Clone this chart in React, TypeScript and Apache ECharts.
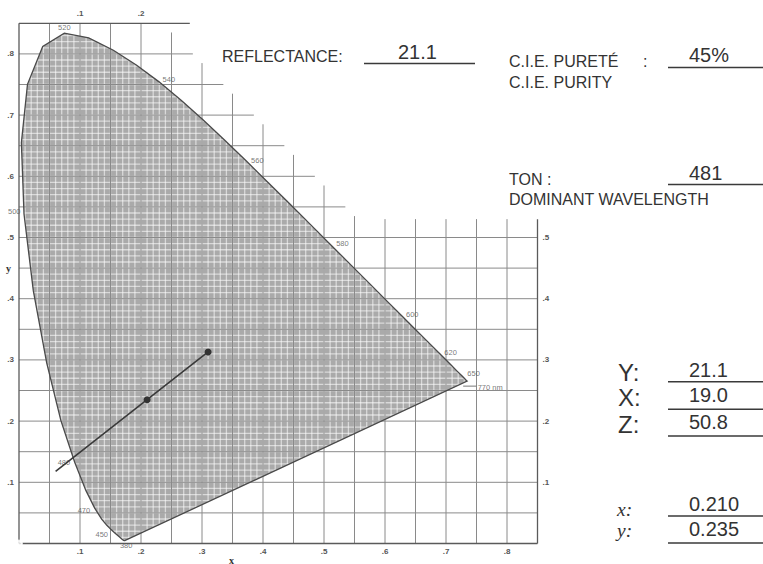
import React, { useEffect, useRef } from "react";
import * as echarts from "echarts";

// ---- Spectral locus (CIE 1931 chromaticity, read along the drawn boundary) ----
const wavelengths = [380, 390, 400, 410, 420, 430, 440, 450, 455, 460, 465, 470, 475, 480, 485, 490, 495, 500, 505, 510, 515, 520, 525, 530, 535, 540, 545, 550, 555, 560, 565, 570, 575, 580, 585, 590, 595, 600, 605, 610, 620, 630, 640, 650, 660, 680, 770];
const locusX = [0.1741, 0.1738, 0.1733, 0.1726, 0.1714, 0.1689, 0.1644, 0.1566, 0.151, 0.144, 0.1355, 0.1241, 0.1096, 0.0913, 0.0687, 0.0454, 0.0235, 0.0082, 0.0039, 0.0139, 0.0389, 0.0743, 0.1142, 0.1547, 0.1929, 0.2296, 0.2658, 0.3016, 0.3373, 0.3731, 0.4087, 0.4441, 0.4788, 0.5125, 0.5448, 0.5752, 0.6029, 0.627, 0.6482, 0.6658, 0.6915, 0.7079, 0.719, 0.726, 0.73, 0.7334, 0.7347];
const locusY = [0.005, 0.0049, 0.0048, 0.0048, 0.0051, 0.0069, 0.0109, 0.0177, 0.0227, 0.0297, 0.0399, 0.0578, 0.0868, 0.1327, 0.2007, 0.295, 0.4127, 0.5384, 0.6548, 0.7502, 0.812, 0.8338, 0.8262, 0.8059, 0.7816, 0.7543, 0.7243, 0.6923, 0.6589, 0.6245, 0.5896, 0.5547, 0.5202, 0.4866, 0.4544, 0.4242, 0.3965, 0.3725, 0.3514, 0.334, 0.3083, 0.292, 0.2809, 0.274, 0.27, 0.2666, 0.2653];

// Labelled wavelengths along the locus
const labeledWavelengths = [520, 540, 560, 580, 600, 620, 650, 770, 500, 480, 470, 450, 380];
const labeledTexts = ["520", "540", "560", "580", "600", "620", "650", "770 nm", "500", "480", "470", "450", "380"];

// Dominant-wavelength construction
const lineEnd = [0.06, 0.118];
const samplePoint = [0.21, 0.235];
const whitePoint = [0.31, 0.313];

// Tick labels
const tickValues = [0.1, 0.2, 0.3, 0.4, 0.5, 0.6, 0.7, 0.8];
const tickLabels = [".1", ".2", ".3", ".4", ".5", ".6", ".7", ".8"];

// Readouts
const reflectanceLabel = "REFLECTANCE:";
const reflectanceValue = "21.1";
const purityLabels = ["C.I.E. PURETÉ", "C.I.E. PURITY"];
const purityValue = "45%";
const toneLabels = ["TON :", "DOMINANT WAVELENGTH"];
const toneValue = "481";
const tristimulusLabels = ["Y:", "X:", "Z:"];
const tristimulusValues = ["21.1", "19.0", "50.8"];
const chromaLabels = ["x:", "y:"];
const chromaValues = ["0.210", "0.235"];

// ---- style / layout ----
const SANS = "'Liberation Sans', Arial, Helvetica, sans-serif";
const SERIF = "'Liberation Serif', 'DejaVu Serif', serif";
const INK = "#333";
const AX_MAX = 0.85;
const DIAG = 1.085;
const RIGHT_TOP = 0.53;
const TOP_BORDER_END = 0.28;

const locus = wavelengths.map((_, i) => [locusX[i], locusY[i]]);

function rangeAlong(axis: number, c: number): [number, number] | null {
  const n = locus.length;
  let lo = Infinity;
  let hi = -Infinity;
  for (let i = 0; i < n; i++) {
    const a = locus[i];
    const b = locus[(i + 1) % n];
    const ca = a[axis];
    const cb = b[axis];
    if (ca !== cb && (c - ca) * (c - cb) <= 0) {
      const t = (c - ca) / (cb - ca);
      const o = a[1 - axis] + t * (b[1 - axis] - a[1 - axis]);
      lo = Math.min(lo, o);
      hi = Math.max(hi, o);
    }
  }
  return lo <= hi ? [lo, hi] : null;
}

function tickFormatter(limit: number) {
  return (v: number) => {
    const idx = tickValues.findIndex((t) => Math.abs(t - v) < 1e-6);
    if (idx < 0 || tickValues[idx] > limit + 1e-6) return "";
    return tickLabels[idx];
  };
}

const labelPlacement: Record<number, any> = {
  520: { position: "top", distance: 1 },
  540: { position: "right", distance: 3, offset: [0, -2] },
  560: { position: "right", distance: 4, offset: [0, -1] },
  580: { position: "right", distance: 4, offset: [0, -2] },
  600: { position: "right", distance: 4, offset: [0, -1] },
  620: { position: "right", distance: 3, offset: [0, -2] },
  650: { position: "right", distance: 5, offset: [0, -2] },
  770: { position: "right", distance: 10, offset: [0, 6] },
  500: { position: "left", distance: 3, offset: [0, -2] },
  480: { position: "left", distance: 4 },
  470: { position: "left", distance: 4, offset: [0, 2] },
  450: { position: "left", distance: 6, offset: [0, 2] },
  380: { position: "bottom", distance: 1, offset: [1, 0] },
};

export default function App() {
  const ref = useRef<HTMLDivElement>(null);

  useEffect(() => {
    if (!ref.current) return;
    const chart = echarts.init(ref.current, null, { renderer: "svg" });

    const renderItem = (_params: any, api: any) => {
      const P = (x: number, y: number) => api.coord([x, y]);
      const children: any[] = [];
      const seg = (x1: number, y1: number, x2: number, y2: number, stroke: string, lw: number) => {
        const a = P(x1, y1);
        const b = P(x2, y2);
        children.push({
          type: "line",
          silent: true,
          shape: { x1: a[0], y1: a[1], x2: b[0], y2: b[1] },
          style: { stroke, lineWidth: lw },
        });
      };
      // gamut fill
      children.push({
        type: "polygon",
        silent: true,
        shape: { points: locus.map((p) => P(p[0], p[1])) },
        style: { fill: "#aaaaaa" },
      });
      // fine mesh inside gamut
      for (let i = 1; i < 85; i++) {
        const c = i / 100;
        const h = rangeAlong(1, c);
        if (h) seg(h[0], c, h[1], c, "rgba(255,255,255,0.55)", 1.3);
        const v = rangeAlong(0, c);
        if (v) seg(c, v[0], c, v[1], "rgba(255,255,255,0.55)", 1.3);
      }
      // major grid
      for (let k = 1; k < 17; k++) {
        const y = k * 0.05;
        const xEnd = y <= 0.5 + 1e-9 ? AX_MAX : Math.min(AX_MAX, DIAG - y);
        seg(0, y, xEnd, y, "#8a8a8a", 1);
        const x = k * 0.05;
        const yEnd = Math.min(AX_MAX, Math.max(RIGHT_TOP, DIAG - x));
        seg(x, 0, x, yEnd, "#8a8a8a", 1);
      }
      // borders
      seg(0, 0, AX_MAX, 0, "#5a5a5a", 1.3);
      seg(0, 0, 0, AX_MAX, "#5a5a5a", 1.3);
      seg(0, AX_MAX, TOP_BORDER_END, AX_MAX, "#5a5a5a", 1.2);
      seg(AX_MAX, 0, AX_MAX, RIGHT_TOP, "#5a5a5a", 1.3);
      // locus outline
      children.push({
        type: "polygon",
        silent: true,
        shape: { points: locus.map((p) => P(p[0], p[1])) },
        style: { fill: "none", stroke: "#4a4a4a", lineWidth: 1.3 },
      });
      // leader for the 770 nm label
      const end = locus[locus.length - 1];
      const e = P(end[0], end[1]);
      children.push({
        type: "line",
        silent: true,
        shape: { x1: e[0] - 4, y1: e[1] + 5, x2: e[0] + 9, y2: e[1] + 5 },
        style: { stroke: "#555", lineWidth: 0.8 },
      });
      return { type: "group", children };
    };

    const axisLabelBase = {
      fontSize: 8,
      fontWeight: "bold",
      color: "#555",
      fontFamily: SANS,
      showMaxLabel: true,
      showMinLabel: false,
    };
    const valueAxis = {
      type: "value",
      min: 0,
      max: AX_MAX,
      interval: 0.1,
      axisLine: { show: false },
      axisTick: { show: false },
      splitLine: { show: false },
    };

    const textEl = (text: string, x: number, y: number, size: number, extra: any = {}) => ({
      type: "text",
      x,
      y,
      silent: true,
      style: {
        text,
        fontSize: size,
        fontFamily: SANS,
        fill: INK,
        align: "left",
        verticalAlign: "middle",
        ...extra,
      },
    });
    const rule = (x1: number, x2: number, y: number) => ({
      type: "line",
      silent: true,
      shape: { x1, y1: y, x2, y2: y },
      style: { stroke: "#3a3a3a", lineWidth: 1.6 },
    });

    const graphics: any[] = [
      textEl(reflectanceLabel, 222, 56.5, 16),
      textEl(reflectanceValue, 398, 52, 20),
      rule(364, 475, 63.5),
      textEl(purityLabels[0], 509, 61, 16),
      textEl(":", 643, 61, 16),
      textEl(purityLabels[1], 509, 82.5, 16),
      textEl(purityValue, 689, 55, 20),
      rule(668, 763, 67.5),
      textEl(toneLabels[0], 509, 179, 16),
      textEl(toneValue, 689, 173, 20),
      rule(668, 763, 184.5),
      textEl(toneLabels[1], 509, 199, 16),
      textEl("y", 6, 268, 10, { fontWeight: "bold", fontFamily: SERIF }),
      textEl("x", 229, 560, 10, { fontWeight: "bold", fontFamily: SERIF }),
    ];
    const triY = [372.5, 397.5, 424];
    const triRule = [381.7, 409.3, 436];
    tristimulusLabels.forEach((t, i) => {
      graphics.push(textEl(t, 618, triY[i], 24, { lineHeight: 21 }));
      graphics.push(textEl(tristimulusValues[i], 689, triY[i] - 2.5, 20, { lineHeight: 18 }));
      graphics.push(rule(668, 763, triRule[i]));
    });
    const chY = [509.5, 530];
    const chValY = [503.5, 528.5];
    const chRule = [516, 543];
    chromaLabels.forEach((t, i) => {
      graphics.push(textEl(t, 617, chY[i], 19.5, { fontFamily: SERIF, fontStyle: "italic", lineHeight: 16 }));
      graphics.push(textEl(chromaValues[i], 689, chValY[i], 20, { lineHeight: 18 }));
      graphics.push(rule(668, 763, chRule[i]));
    });

    const labelData = labeledWavelengths.map((nm, i) => {
      const idx = wavelengths.indexOf(nm);
      const pl = labelPlacement[nm] || {};
      return {
        value: [locusX[idx], locusY[idx]],
        label: {
          show: true,
          formatter: labeledTexts[i],
          color: "#555",
          fontSize: 7.5,
          fontFamily: SANS,
          textBorderWidth: 0,
          textShadowBlur: 0,
          ...pl,
        },
      };
    });

    chart.setOption({
      animation: false,
      backgroundColor: "#fff",
      grid: { left: 19, top: 23.3, right: 225.5, bottom: 20.5, containLabel: false },
      xAxis: [
        { ...valueAxis, position: "bottom", axisLabel: { ...axisLabelBase, margin: 4, formatter: tickFormatter(0.8) } },
        { ...valueAxis, position: "top", axisLabel: { ...axisLabelBase, margin: 6, formatter: tickFormatter(0.2) } },
      ],
      yAxis: [
        { ...valueAxis, position: "left", axisLabel: { ...axisLabelBase, margin: 5, formatter: tickFormatter(0.8) } },
        { ...valueAxis, position: "right", axisLabel: { ...axisLabelBase, margin: 5, formatter: tickFormatter(0.5) } },
      ],
      series: [
        {
          type: "custom",
          xAxisIndex: 0,
          yAxisIndex: 0,
          renderItem,
          data: [[0, 0]],
          silent: true,
          clip: false,
        },
        {
          type: "line",
          xAxisIndex: 0,
          yAxisIndex: 0,
          data: [{ value: lineEnd, symbol: "none" }, samplePoint, whitePoint],
          symbol: "circle",
          symbolSize: 7,
          lineStyle: { color: "#3a3a3a", width: 1.6 },
          itemStyle: { color: "#333" },
          silent: true,
        },
        {
          type: "scatter",
          xAxisIndex: 0,
          yAxisIndex: 0,
          data: [[0, 0]],
          symbol: "emptyCircle",
          symbolSize: 6,
          itemStyle: { color: "#fff", borderColor: "#555", borderWidth: 1 },
          silent: true,
        },
        {
          type: "scatter",
          xAxisIndex: 0,
          yAxisIndex: 0,
          data: labelData,
          symbolSize: 1,
          itemStyle: { color: "rgba(0,0,0,0)" },
          label: { fontSize: 7.5, color: "#555", fontFamily: SANS },
          silent: true,
        },
      ],
      graphic: graphics,
    });

    return () => chart.dispose();
  }, []);

  return (
    <div
      ref={ref}
      style={{ position: "absolute", left: 0, top: 0, width: 763, height: 564, background: "#fff" }}
    />
  );
}
